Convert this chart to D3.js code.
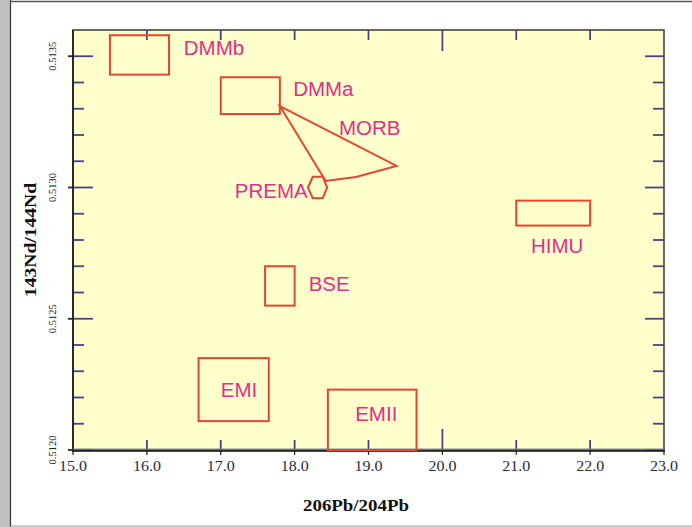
<!DOCTYPE html>
<html><head><meta charset="utf-8">
<script src="https://cdn.jsdelivr.net/npm/d3@7/dist/d3.min.js"></script>
<style>
html,body{margin:0;padding:0;background:#fff;}
svg{display:block;}
</style></head>
<body>
<svg id="c" width="692" height="527"></svg>
<script>
// ---- data ----
const xDomain = [15, 23];
const yDomain = [0.5120, 0.5136];
const xTickValues = [15, 16, 17, 18, 19, 20, 21, 22, 23];
const xTickLabels = ["15.0","16.0","17.0","18.0","19.0","20.0","21.0","22.0","23.0"];
const xMajorTicks = [20];
const yMajorTicks = [0.5120, 0.5125, 0.5130, 0.5135];
const yTickLabels = ["0.5120","0.5125","0.5130","0.5135"];
const yMinorTicks = [0.5121,0.5122,0.5123,0.5124,0.5126,0.5127,0.5128,0.5129,0.5131,0.5132,0.5133,0.5134];

const boxNames = ["DMMb","DMMa","HIMU","BSE","EMI","EMII"];
const boxX0 = [15.5, 17.0, 21.0, 17.6, 16.7, 18.45];
const boxX1 = [16.3, 17.8, 22.0, 18.0, 17.65, 19.65];
const boxY0 = [0.51343, 0.51328, 0.512855, 0.51255, 0.51211, 0.51200];
const boxY1 = [0.51358, 0.51342, 0.51295, 0.51270, 0.51235, 0.51223];

const morbX = [17.8, 19.38, 18.83, 18.42];
const morbY = [0.51331, 0.513082, 0.51304, 0.513025];

const premaX = [18.18, 18.245, 18.38, 18.44, 18.38, 18.245];
const premaY = [0.51300, 0.513041, 0.513041, 0.51300, 0.512959, 0.512959];

const labelNames = ["DMMb","DMMa","MORB","PREMA","HIMU","BSE","EMI","EMII"];
const labelX = [16.50, 17.98, 18.6, 17.19, 21.2, 18.19, 17.0, 18.82];
const labelY = [0.513505, 0.513349, 0.51320, 0.51296, 0.51275, 0.512606, 0.512202, 0.51211];

// ---- drawing ----
const svg = d3.select("#c");
const L = 73, R = 664, T = 30, B = 450;
const x = d3.scaleLinear().domain(xDomain).range([L, R]);
const y = d3.scaleLinear().domain(yDomain).range([B, T]);

// outer frame
svg.append("rect").attr("x",0).attr("y",0).attr("width",10).attr("height",527).attr("fill","#c0c0c0");
svg.append("line").attr("x1",10.5).attr("x2",10.5).attr("y1",0).attr("y2",527).attr("stroke","#333").attr("stroke-width",1.2);
svg.append("line").attr("x1",10).attr("x2",692).attr("y1",1.5).attr("y2",1.5).attr("stroke","#555").attr("stroke-width",1.5);
svg.append("line").attr("x1",10).attr("x2",692).attr("y1",526).attr("y2",526).attr("stroke","#999").attr("stroke-width",1.2);

// plot area
svg.append("rect").attr("x",L).attr("y",T).attr("width",R-L).attr("height",B-T)
  .attr("fill","#ffffcc").attr("stroke","#444").attr("stroke-width",1.6);

const tickColor = "#4a3f88";
const g = svg.append("g");

// x ticks bottom & top (inward)
xTickValues.slice(1, -1).forEach(v => {
  const len = xMajorTicks.includes(v) ? 21 : 10;
  g.append("line").attr("x1",x(v)).attr("x2",x(v)).attr("y1",B).attr("y2",B-len).attr("stroke",tickColor).attr("stroke-width",1.8);
  g.append("line").attr("x1",x(v)).attr("x2",x(v)).attr("y1",T).attr("y2",T+len).attr("stroke",tickColor).attr("stroke-width",1.8);
});
// small outward ticks under bottom axis
xTickValues.forEach(v => {
  g.append("line").attr("x1",x(v)).attr("x2",x(v)).attr("y1",B).attr("y2",B+5).attr("stroke","#222").attr("stroke-width",1.2);
});
// y ticks
yMajorTicks.forEach(v => {
  g.append("line").attr("x1",L-5).attr("x2",L+20).attr("y1",y(v)).attr("y2",y(v)).attr("stroke",tickColor).attr("stroke-width",1.8);
  g.append("line").attr("x1",L-5).attr("x2",L).attr("y1",y(v)).attr("y2",y(v)).attr("stroke","#222").attr("stroke-width",1.2);
  g.append("line").attr("x1",R-19).attr("x2",R).attr("y1",y(v)).attr("y2",y(v)).attr("stroke",tickColor).attr("stroke-width",1.8);
});
yMinorTicks.forEach(v => {
  g.append("line").attr("x1",L).attr("x2",L+11).attr("y1",y(v)).attr("y2",y(v)).attr("stroke",tickColor).attr("stroke-width",1.8);
  g.append("line").attr("x1",R-11).attr("x2",R).attr("y1",y(v)).attr("y2",y(v)).attr("stroke",tickColor).attr("stroke-width",1.8);
});

// axis lines
svg.append("line").attr("x1",L).attr("x2",L).attr("y1",T).attr("y2",B+1).attr("stroke","#111").attr("stroke-width",1.4);
svg.append("line").attr("x1",L-1).attr("x2",R+1).attr("y1",B+1).attr("y2",B+1).attr("stroke","#111").attr("stroke-width",1.6);
svg.append("line").attr("x1",L).attr("x2",R).attr("y1",B-1).attr("y2",B-1).attr("stroke","#888").attr("stroke-width",1.2);

// x tick labels
xTickValues.forEach((v,i) => {
  svg.append("text").attr("x",x(v)).attr("y",471).attr("text-anchor","middle")
    .attr("font-family","Liberation Serif, Times New Roman, serif").attr("font-size",14)
    .attr("textLength",28).attr("lengthAdjust","spacingAndGlyphs")
    .attr("fill","#2a2a40").text(xTickLabels[i]);
});
// y tick labels (rotated)
yMajorTicks.forEach((v,i) => {
  svg.append("text").attr("transform",`translate(56,${y(v)}) rotate(-90)`).attr("text-anchor","middle")
    .attr("font-family","Liberation Serif, Times New Roman, serif").attr("font-size",10.5)
    .attr("fill","#222").text(yTickLabels[i]);
});
// axis titles
svg.append("text").attr("x",356).attr("y",511).attr("text-anchor","middle")
  .attr("font-family","Liberation Serif, Times New Roman, serif").attr("font-weight","bold").attr("font-size",17)
  .attr("textLength",106).attr("lengthAdjust","spacingAndGlyphs")
  .attr("fill","#111").text("206Pb/204Pb");
svg.append("text").attr("transform","translate(36,240) rotate(-90)").attr("text-anchor","middle")
  .attr("font-family","Liberation Serif, Times New Roman, serif").attr("font-weight","bold").attr("font-size",16)
  .attr("textLength",114).attr("lengthAdjust","spacingAndGlyphs")
  .attr("fill","#111").text("143Nd/144Nd");

// regions
const red = "#e5452f";
boxNames.forEach((n,i) => {
  svg.append("rect").attr("x",x(boxX0[i])).attr("y",y(boxY1[i]))
    .attr("width",x(boxX1[i])-x(boxX0[i])).attr("height",y(boxY0[i])-y(boxY1[i]))
    .attr("fill","none").attr("stroke",red).attr("stroke-width",2);
});
const line = d3.line().x(d=>x(d[0])).y(d=>y(d[1]));
svg.append("path").attr("d", line(morbX.map((v,i)=>[v,morbY[i]])) + "Z")
  .attr("fill","none").attr("stroke",red).attr("stroke-width",2).attr("stroke-linejoin","miter");
svg.append("path").attr("d", line(premaX.map((v,i)=>[v,premaY[i]])) + "Z")
  .attr("fill","none").attr("stroke",red).attr("stroke-width",2);

// labels
labelNames.forEach((n,i) => {
  svg.append("text").attr("x",x(labelX[i])).attr("y",y(labelY[i]))
    .attr("font-family","Liberation Sans, Arial, sans-serif").attr("font-size",20.5)
    .attr("fill","#e0308a").text(n);
});
</script>
</body></html>
